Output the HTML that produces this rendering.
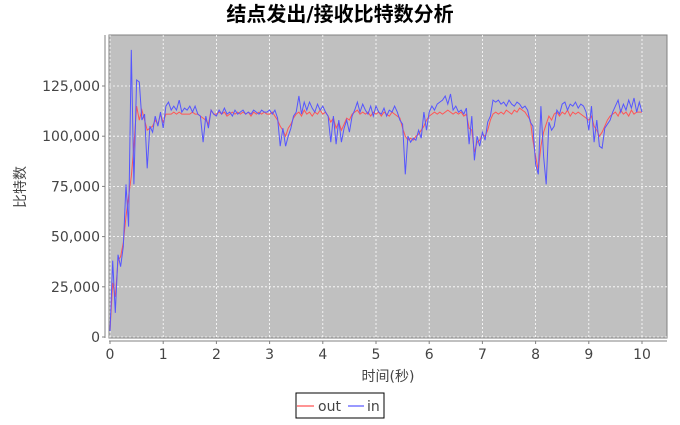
<!DOCTYPE html>
<html><head><meta charset="utf-8"><style>
body{margin:0;background:#fff;}
svg text{font-family:"DejaVu Sans","Noto Sans CJK SC",sans-serif;}
</style></head><body>
<svg id="chart" width="680" height="420" xmlns="http://www.w3.org/2000/svg">
<text x="340" y="21" text-anchor="middle" font-size="20" font-weight="bold" fill="#000">结点发出/接收比特数分析</text>
<rect x="109" y="35" width="558" height="303" fill="#c0c0c0" stroke="#808080" stroke-width="1"/>
<g id="grid"></g>
<g id="axes"></g>
<g id="series"></g>
<text x="388" y="381" text-anchor="middle" font-size="14" fill="#444">时间(秒)</text>
<text transform="translate(25,187) rotate(-90)" text-anchor="middle" font-size="14" fill="#444">比特数</text>
<g>
<rect x="296" y="393" width="88" height="25" fill="#fff" stroke="#000"/>
<g><line x1="297" y1="406" x2="314" y2="406" stroke="#ff5555" stroke-width="1.2"/><text x="318" y="411" font-size="14" fill="#444">out</text></g>
<g><line x1="348" y1="406" x2="364" y2="406" stroke="#5555ff" stroke-width="1.2"/><text x="367" y="411" font-size="14" fill="#444">in</text></g>
</g>
</svg>
<script>
const xTicks=[0,1,2,3,4,5,6,7,8,9,10];
const yTicks=[0,25000,50000,75000,100000,125000];
const yTickLabels=["0","25,000","50,000","75,000","100,000","125,000"];
const inVals=[3,38,12,41,35,45,76,55,143,76,
128,127,108,111,84,105,102,110,105,112,
104,115,117,113,115,113,118,112,114,113,
115,112,115,111,110,97,110,104,113,111,
110,113,111,114,111,112,110,113,111,112,
113,111,112,111,113,112,111,113,112,112,
113,111,113,109,95,104,95,100,104,110,
112,120,111,117,113,117,114,112,116,113,
115,112,110,97,110,96,108,97,104,108,
102,110,113,117,112,116,113,111,115,110,
115,112,111,114,110,113,112,115,112,108,
106,81,100,97,99,98,103,99,112,103,
112,115,113,116,117,118,120,116,121,113,
115,112,113,111,114,96,110,88,100,95,
102,98,107,110,118,117,118,116,117,115,
118,116,115,117,116,114,115,113,107,105,
86,81,115,90,76,107,103,105,113,111,
116,117,113,116,115,117,114,116,115,112,
103,115,97,108,95,94,104,106,108,112,
115,118,112,116,113,118,114,119,112,117,112];
const outVals=[3,27,20,38,40,47,60,70,80,95,
115,108,113,108,103,104,105,108,106,111,
107,111,111,111,112,111,112,111,111,111,
111,112,111,111,110,109,108,106,113,111,
111,112,111,112,110,111,112,111,112,111,
112,111,112,110,112,111,112,111,112,111,
111,112,110,108,105,103,100,104,106,109,
111,112,110,113,111,112,110,112,111,113,
111,112,110,107,109,104,107,103,106,109,
108,111,112,113,111,112,111,112,110,112,
111,112,110,112,111,110,112,111,110,109,
104,100,98,99,98,100,101,103,105,108,
110,111,112,111,112,111,112,113,112,111,
112,111,112,110,111,104,103,92,97,98,
101,100,103,108,111,112,111,112,111,113,
112,111,113,112,114,113,112,110,108,98,
90,83,95,102,106,110,108,111,112,110,
112,111,113,110,112,111,112,111,110,109,
108,110,105,103,100,102,105,108,110,111,
112,110,113,111,112,110,113,111,112,112,112];
const step=0.05;
const NS="http://www.w3.org/2000/svg";
function X(t){return 110+t*53.2;}
function Y(v){return 337-v*0.002008;}
function mk(tag,attrs,parent){const e=document.createElementNS(NS,tag);for(const k in attrs)e.setAttribute(k,attrs[k]);parent.appendChild(e);return e;}
const grid=document.getElementById('grid'),axes=document.getElementById('axes'),series=document.getElementById('series');
xTicks.forEach(t=>{
 const g=mk('line',{x1:X(t),x2:X(t),y1:35,y2:338,stroke:'#fff','stroke-dasharray':'2,2','stroke-width':0.8},grid);
 
 
 const tk=mk('line',{x1:X(t),x2:X(t),y1:341,y2:344,stroke:'#808080'},axes);
 
 
 const l=mk('text',{x:X(t),y:359,'text-anchor':'middle','font-size':14,fill:'#444'},axes);
 l.textContent=String(t);
 
 
});
yTicks.forEach((v,i)=>{
 const g=mk('line',{x1:109,x2:667,y1:Y(v),y2:Y(v),stroke:'#fff','stroke-dasharray':'2,2','stroke-width':0.8},grid);
 
 
 const tk=mk('line',{x1:102,x2:105,y1:Y(v),y2:Y(v),stroke:'#808080'},axes);
 
 
 const l=mk('text',{x:100,y:Y(v)+5,'text-anchor':'end','font-size':14,fill:'#444'},axes);
 l.textContent=yTickLabels[i];
 
 
});
const ya=mk('line',{x1:105,x2:105,y1:35,y2:338,stroke:'#808080'},axes);


const xa=mk('line',{x1:109,x2:667,y1:341,y2:341,stroke:'#808080'},axes);


function line(vals,color,name){
 const pts=vals.map((v,i)=>X(i*step).toFixed(1)+','+Y(v*1000).toFixed(1)).join(' ');
 const p=mk('polyline',{points:pts,fill:'none',stroke:color,'stroke-width':1},series);
 
 
}
line(outVals,'#ff5555','out-line');
line(inVals,'#5555ff','in-line');
</script>
</body></html>
